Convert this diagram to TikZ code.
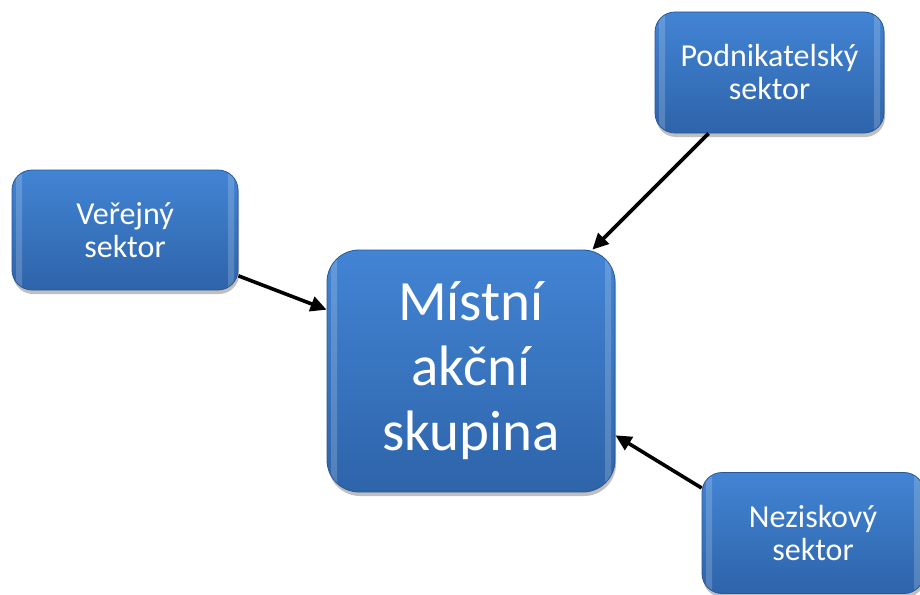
\documentclass[tikz,border=0pt]{standalone}
\usepackage{fontspec}
\setmainfont{Carlito}
\usetikzlibrary{arrows.meta,shadows}
\definecolor{btop}{RGB}{66,132,212}
\definecolor{bbot}{RGB}{46,100,170}
\definecolor{bedge}{RGB}{40,88,150}
\tikzset{
  boxbase/.style={rounded corners=20pt, top color=btop, bottom color=bbot,
    draw=bedge, line width=0.8pt, text=white, align=center, inner sep=0pt,
    drop shadow={shadow xshift=1pt, shadow yshift=-4pt, fill=black, opacity=0.25},
    path picture={
      \fill[white, opacity=0.18, rounded corners=8pt]
        ([xshift=4pt,yshift=10pt]path picture bounding box.north west) rectangle
        ([xshift=10pt,yshift=-10pt]path picture bounding box.south west);
      \fill[white, opacity=0.18, rounded corners=8pt]
        ([xshift=-10pt,yshift=10pt]path picture bounding box.north east) rectangle
        ([xshift=-4pt,yshift=-10pt]path picture bounding box.south east);
    }},
  smallbox/.style={boxbase, minimum width=226pt, minimum height=120pt,
    font=\fontsize{32}{33}\selectfont},
  bigbox/.style={boxbase, rounded corners=32pt, minimum width=288pt, minimum height=242pt,
    font=\fontsize{57}{65}\selectfont},
  conn/.style={line width=3.6pt, -{Triangle[length=16pt,width=15pt]}}
}
\begin{document}
\begin{tikzpicture}[x=1pt,y=-1pt]
\useasboundingbox (0,0) rectangle (920,594);
\clip (0,0) rectangle (920,594);
\node[smallbox] (v) at (125,230) {Veřejný\\sektor};
\node[smallbox, minimum width=229pt, minimum height=121pt] (p) at (769.5,72.5) {Podnikatelský\\sektor};
\node[smallbox, minimum width=222pt, minimum height=121pt] (n) at (813,533) {Neziskový\\sektor};
\node[bigbox] (m) at (471,371) {Místní\\akční\\skupina};
\draw[conn] (v.-22.6) -- (m.157.5);
\draw[conn] (p.-135) -- (m.45);
\draw[conn] (n.158) -- (m.-24.6);
\end{tikzpicture}
\end{document}
